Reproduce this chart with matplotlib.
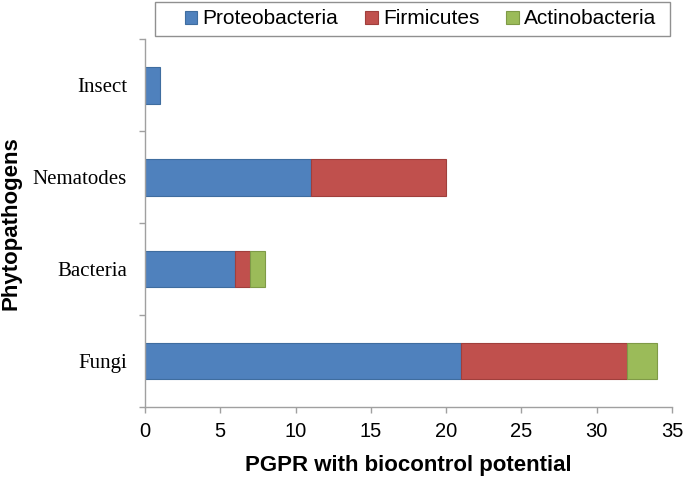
import numpy as np
import matplotlib
matplotlib.use('Agg')
import matplotlib.pyplot as plt
from matplotlib.patches import Rectangle

# ===================== DATI =====================
categories = ['Fungi', 'Bacteria', 'Nematodes', 'Insect']
proteobacteria = [21, 6, 11, 1]
firmicutes = [11, 1, 9, 0]
actinobacteria = [2, 1, 0, 0]
series_names = ['Proteobacteria', 'Firmicutes', 'Actinobacteria']
# ===============================================

colors = ['#4F81BD', '#C0504D', '#9BBB59']
edges = ['#3f6d9f', '#a03f3c', '#7f9a47']

W, H = 685, 478
fig = plt.figure(figsize=(W / 100, H / 100), dpi=100)
ax = fig.add_axes([0.2117, 0.1485, 0.7693, 0.7695])

y = np.arange(len(categories))
left = np.zeros(len(categories))
for vals, name, c, ec in zip([proteobacteria, firmicutes, actinobacteria],
                             series_names, colors, edges):
    vals = np.array(vals, dtype=float)
    bars = ax.barh(y, vals, left=left, height=0.4, color=c, edgecolor=ec,
                   linewidth=0.8, label=name)
    # niente bordo per i segmenti a zero
    for b, v in zip(bars, vals):
        if v == 0:
            b.set_visible(False)
    left += vals

ax.set_xlim(0, 35)
ax.set_ylim(-0.5, len(categories) - 0.5)
ax.set_xticks(np.arange(0, 36, 5))
ax.set_yticks(y)
ax.set_yticklabels(categories, fontfamily='Liberation Serif', fontsize=15)
ax.set_yticks(np.arange(-0.5, len(categories), 1.0), minor=True)
ax.tick_params(axis='y', which='major', length=0, pad=13)
ax.tick_params(axis='y', which='minor', length=4, color='#a0a0a0', width=1)
ax.tick_params(axis='x', length=4, color='#a0a0a0', width=1,
               labelsize=14.5, pad=7)
for lab in ax.get_xticklabels():
    lab.set_fontfamily('Liberation Sans')

for s in ['top', 'right']:
    ax.spines[s].set_visible(False)
for s in ['left', 'bottom']:
    ax.spines[s].set_color('#a0a0a0')
    ax.spines[s].set_linewidth(1)

ax.set_xlabel('PGPR with biocontrol potential', fontfamily='Liberation Sans',
              fontsize=16, fontweight='bold', labelpad=10)
ax.set_ylabel('Phytopathogens', fontfamily='Liberation Sans',
              fontsize=16, fontweight='bold', labelpad=8)

# legenda senza cornice + riquadro come in Excel (padding asimmetrico)
leg = fig.legend(loc='center', bbox_to_anchor=(0.614, 1 - 19 / H), ncol=3,
                 prop={'family': 'Liberation Sans', 'size': 15},
                 frameon=False, handlelength=0.6, handleheight=0.6,
                 handletextpad=0.25, columnspacing=1.3)
fig.patches.append(Rectangle((155 / W, 1 - 36 / H), 515 / W, 34 / H,
                             transform=fig.transFigure, fill=False,
                             edgecolor='#909090', linewidth=1))

fig.savefig('out.png', dpi=100)
